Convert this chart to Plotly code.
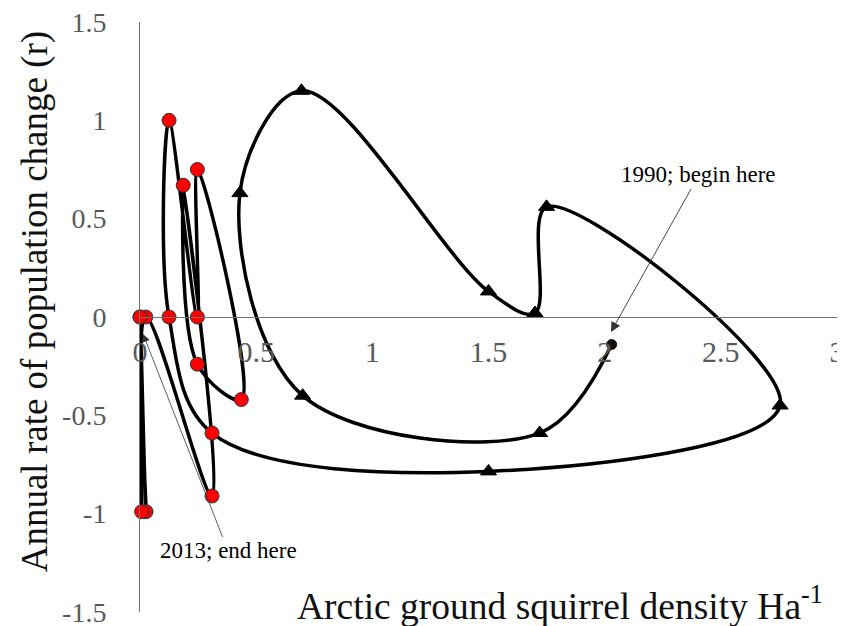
import plotly.graph_objects as go

# ---- data ----
years = list(range(1990, 2014))
density = [2.03, 1.72, 0.70, 0.43, 0.695, 1.50, 1.70, 1.75, 2.755, 1.50,
           0.31, 0.125, 0.125, 0.247, 0.247, 0.436, 0.247, 0.186, 0.31,
           0.025, 0.026, 0.0, 0.007, 0.0]
rate = [-0.14, -0.59, -0.40, 0.63, 1.15, 0.13, 0.02, 0.56, -0.45, -0.785,
        -0.59, 0.0, 1.0, 0.0, 0.75, -0.42, -0.24, 0.67, -0.91,
        0.0, -0.99, 0.0, -0.99, 0.0]

x_tickvals = [0, 0.5, 1, 1.5, 2, 2.5, 3]
x_ticktext = ["0", "0.5", "1", "1.5", "2", "2.5", "3"]
y_tickvals = [-1.5, -1, -0.5, 0, 0.5, 1, 1.5]
y_ticktext = ["-1.5", "-1", "-0.5", "0", "0.5", "1", "1.5"]

x_title = "Arctic ground squirrel density Ha<sup>-1</sup>"
y_title = "Annual rate of population change (r)"
begin_label = "1990; begin here"
end_label = "2013; end here"

# ---- marker styles by period ----
symbols, colors, sizes, lcolors = [], [], [], []
for yr in years:
    if yr == 1990:
        symbols.append("circle"); colors.append("#111111"); sizes.append(10); lcolors.append("#111111")
    elif yr < 2000:
        symbols.append("triangle-up"); colors.append("#000000"); sizes.append(14); lcolors.append("#000000")
    else:
        symbols.append("circle"); colors.append("#ff0000"); sizes.append(14); lcolors.append("#1f3b3b")

fig = go.Figure()
fig.add_trace(go.Scatter(
    x=density, y=rate, mode="lines+markers",
    line=dict(color="#000000", width=3.5, shape="spline", smoothing=1.0),
    marker=dict(symbol=symbols, color=colors, size=sizes, opacity=1,
                line=dict(color=lcolors, width=1)),
    opacity=1, cliponaxis=False, hoverinfo="skip"))

fnt = "Liberation Serif, Times New Roman, serif"
# page body has an 8px margin, so the figure is 8px smaller than the window
fig.update_layout(
    width=837, height=618,
    margin=dict(l=132, r=8, t=14, b=14, autoexpand=False),
    plot_bgcolor="white", paper_bgcolor="white",
    showlegend=False,
    font=dict(family=fnt, color="#000000"),
    xaxis=dict(range=[0, 3], anchor="free", position=0.5, automargin=False,
               showline=True, linecolor="#707070", linewidth=1,
               showgrid=False, zeroline=False, ticks="",
               tickvals=x_tickvals, ticktext=x_ticktext,
               tickfont=dict(family=fnt, size=30, color="#595959"),
               ticklabelstandoff=8, ticklabeloverflow="allow"),
    yaxis=dict(range=[-1.5, 1.5], automargin=False,
               showline=True, linecolor="#707070", linewidth=1,
               showgrid=False, zeroline=False, ticks="",
               tickvals=y_tickvals, ticktext=y_ticktext,
               tickfont=dict(family=fnt, size=28, color="#595959"),
               ticklabelstandoff=27, ticklabeloverflow="allow"),
)

# labels with their leader arrows (arrow tip at data point, text at tail)
fig.add_annotation(x=2.027, y=-0.076, xref="x", yref="y", text=begin_label,
                   showarrow=True, ax=88, ay=-157, arrowhead=2, arrowsize=2.2,
                   arrowwidth=0.9, arrowcolor="#333333",
                   font=dict(family=fnt, size=23, color="#000000"))
fig.add_annotation(x=0.013, y=-0.086, xref="x", yref="y", text=end_label,
                   showarrow=True, ax=85, ay=217, arrowhead=2, arrowsize=2.0,
                   arrowwidth=0.8, arrowcolor="#333333",
                   font=dict(family=fnt, size=23, color="#000000"))

fig.add_annotation(x=0.602, y=0.0136, xref="paper", yref="paper", text=x_title,
                   xanchor="center", yanchor="middle",
                   showarrow=False, font=dict(family=fnt, size=37.5, color="#111111"))
fig.add_annotation(x=-0.1506, y=0.525, xref="paper", yref="paper", text=y_title,
                   xanchor="center", yanchor="middle",
                   textangle=-90, showarrow=False,
                   font=dict(family=fnt, size=37, color="#111111"))

fig.write_html("out.html")
